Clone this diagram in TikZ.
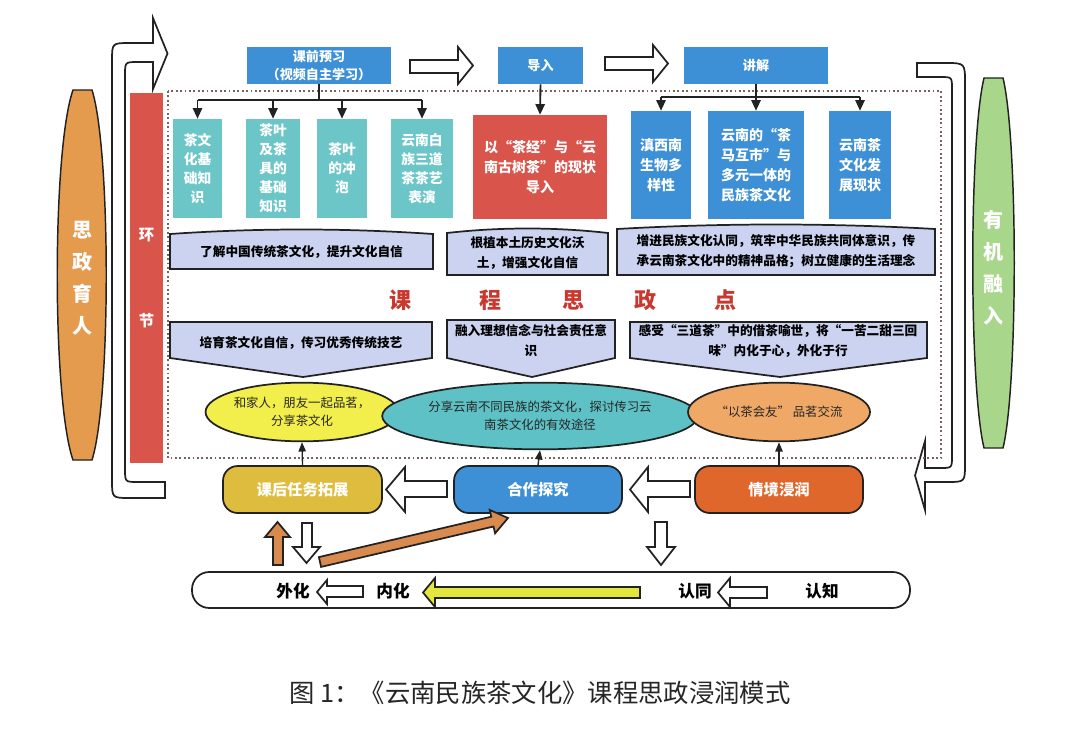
\documentclass[tikz,border=0pt]{standalone}
\usepackage{fontspec}
\setmainfont{Noto Sans CJK SC}
\usetikzlibrary{shapes.geometric,fit,arrows.meta}
\definecolor{cBlue}{HTML}{3D8FD6}
\definecolor{cTeal}{HTML}{6CC6C8}
\definecolor{cRed}{HTML}{D9544B}
\definecolor{cOrgLens}{HTML}{E49B4E}
\definecolor{cGreen}{HTML}{A8D68A}
\definecolor{cLav}{HTML}{CBD3F1}
\definecolor{cYel}{HTML}{F2EE4B}
\definecolor{cTealE}{HTML}{5DC1C5}
\definecolor{cOrgE}{HTML}{F0A866}
\definecolor{cGold}{HTML}{DEBD3E}
\definecolor{cOrgB}{HTML}{E0672C}
\definecolor{cHead}{HTML}{C8382F}
\definecolor{cOrgA}{HTML}{D98A4E}
\definecolor{cYelA}{HTML}{E4E63E}
\definecolor{cDot}{HTML}{7A6060}
\definecolor{cLine}{HTML}{222222}
\newcommand\fsz[2]{\fontsize{#1pt}{#2pt}\selectfont}
% box from pixel corners: style, name, x1, y1, x2, y2, text
\newcommand\bx[7]{%
  \pgfmathsetmacro\bxcx{(#3+#5)/2}\pgfmathsetmacro\bxcy{(#4+#6)/2}%
  \pgfmathsetmacro\bxw{(#5-#3)*0.75}\pgfmathsetmacro\bxh{(#6-#4)*0.75}%
  \node[#1,minimum width=\bxw pt,minimum height=\bxh pt] (#2) at (\bxcx,\bxcy) {#7};}
\begin{document}
\begin{tikzpicture}[x=0.75pt,y=-0.75pt,
  outl/.style={draw=cLine,line width=1.3pt},
  hollow/.style={outl,fill=white,line join=miter},
  lens/.style={outl,line width=1.1pt},
  tbx/.style={inner sep=0pt,align=center,text=white,fill=cBlue,font=\bfseries\fsz{9.8}{13.5}},
  tealbx/.style={inner sep=0pt,align=center,text=white,fill=cTeal,font=\bfseries\fsz{10.3}{14.2}},
  bluebx/.style={inner sep=0pt,align=center,text=white,fill=cBlue,font=\bfseries\fsz{10.5}{15}},
  redbx/.style={inner sep=0pt,align=center,text=white,fill=cRed,font=\bfseries\fsz{10.5}{15}},
  ban/.style={outl,fill=cLav},
  bantxt/.style={inner sep=0pt,align=center,text=black,font=\bfseries\fsz{9.5}{15}},
  ell/.style={ellipse,outl,inner sep=0pt,align=center,text=black!85,font=\fsz{9.3}{13.5}},
  botbx/.style={outl,rounded corners=11pt,inner sep=0pt,align=center,text=white,font=\bfseries\fsz{11.5}{14}},
  head/.style={text=cHead,font=\bfseries\fsz{16.5}{18},inner sep=0pt},
  bartxt/.style={text=black,font=\bfseries\fsz{12.5}{14},inner sep=0pt},
  vtxt/.style={text=white,align=center,font=\bfseries\fsz{15}{24},inner sep=0pt},
  cline/.style={draw=cLine,line width=1.4pt},
  carrow/.style={cline,-{Triangle[length=8pt,width=7pt]}},
  uparrow/.style={draw=cLine,line width=1pt,-{Triangle[length=7pt,width=5.5pt]}}
]
\useasboundingbox (0,0) rectangle (1080,738);

% side lenses
\draw[lens,fill=cOrgLens] (73,90) -- (92,90) .. controls (111,150) and (111,400) .. (92,460) -- (73,460) .. controls (52,400) and (52,150) .. (73,90) -- cycle;
\node[vtxt] (szyr) at (82.5,278) {思\\政\\育\\人};
\draw[lens,fill=cGreen] (984,78) -- (1003,78) .. controls (1018,140) and (1018,386) .. (1003,448) -- (984,448) .. controls (969,386) and (969,140) .. (984,78) -- cycle;
\node[vtxt] (yjrr) at (993.5,268) {有\\机\\融\\入};

% big U arrows
\draw[hollow] (165,482) -- (138,482) .. controls (125,482) .. (125,469) -- (125,75) .. controls (125,62) .. (138,62) -- (153,62) -- (153,89) -- (167.5,53.5) -- (153,18) -- (153,43) -- (130,43) .. controls (112,43) .. (112,61) -- (112,480) .. controls (112,498) .. (130,498) -- (165,498) -- cycle;
\draw[hollow] (917,63) -- (945,63) .. controls (965,63) .. (965,83) -- (965,464) .. controls (965,482) .. (947,482) -- (925,482) -- (925,510) -- (915,475.5) -- (925,441) -- (925,468) -- (940,468) .. controls (952,468) .. (952,456) -- (952,89) .. controls (952,77) .. (940,77) -- (917,77) -- cycle;

% red bar
\bx{fill=cRed,inner sep=0pt}{hj}{130}{93}{163}{463}{}
\node[text=white,font=\bfseries\fsz{11.5}{65},align=center,inner sep=0pt] (hjt) at (hj.center) {环\\节};

% dotted frame
\draw[cDot,line width=1.3pt,dotted] (168,91) rectangle (941,458);

% top row
\bx{tbx}{pre}{247}{47}{391}{84}{课前预习\\（视频自主学习）}
\bx{tbx}{dao}{498}{47}{583}{84}{导入}
\bx{tbx}{jj}{684}{47}{828}{84}{讲解}
\draw[hollow] (410,60) -- (458,60) -- (458,47) -- (473,65.5) -- (458,84) -- (458,73) -- (410,73) -- cycle;
\draw[hollow] (605,57) -- (653,57) -- (653,45) -- (668,63.5) -- (653,82) -- (653,70) -- (605,70) -- cycle;

% content boxes
\bx{tealbx}{t1}{173}{119}{222}{218}{茶文\\化基\\础知\\识}
\bx{tealbx}{t2}{246}{119}{300}{218}{茶叶\\及茶\\具的\\基础\\知识}
\bx{tealbx}{t3}{317}{119}{367}{218}{茶叶\\的冲\\泡}
\bx{tealbx}{t4}{391}{119}{453}{218}{云南白\\族三道\\茶茶艺\\表演}
\bx{redbx}{rb}{473}{115}{607}{219}{以“茶经”与“云\\南古树茶”的现状\\导入}
\bx{bluebx}{b1}{631}{111}{691}{219}{滇西南\\生物多\\样性}
\bx{bluebx}{b2}{708}{111}{804}{219}{云南的“茶\\马互市”与\\多元一体的\\民族茶文化}
\bx{bluebx}{b3}{829}{111}{891}{219}{云南茶\\文化发\\展现状}

% connectors top
\coordinate (j1) at (319,100);
\draw[cline] (pre.south) -- (j1);
\draw[cline] (j1 -| t1.north) -- (j1 -| t4.north);
\foreach \t in {t1,t2,t3,t4} \draw[carrow] (j1 -| \t.north) -- (\t.north);
\draw[carrow] (dao.south) -- (rb.north);
\coordinate (j2) at (756,97);
\draw[cline] (jj.south) -- (j2);
\draw[cline] (j2 -| b1.north) -- (j2 -| b3.north);
\foreach \t in {b1,b2,b3} \draw[carrow] (j2 -| \t.north) -- (\t.north);

% upper banners
\draw[ban] (170,234) .. controls (258,228) and (345,228) .. (433,234) -- (433,269) -- (170,269) -- cycle;
\node[bantxt] (pA) at (301.5,252) {了解中国传统茶文化，提升文化自信};
\draw[ban] (447,233) .. controls (500,227) and (555,227) .. (608,233) -- (608,275) -- (447,275) -- cycle;
\node[bantxt] (pB) at (527.5,253) {根植本土历史文化沃\\土，增强文化自信};
\draw[ban] (617,229) .. controls (723,223) and (829,223) .. (935,229) -- (935,275) -- (617,275) -- cycle;
\node[bantxt] (pC) at (776,251) {增进民族文化认同，筑牢中华民族共同体意识，传\\承云南茶文化中的精神品格；树立健康的生活理念};

% heading
\node[head] (k1) at (400,300) {课};
\node[head] (k2) at (490,300) {程};
\node[head] (k3) at (573,300) {思};
\node[head] (k4) at (645,300) {政};
\node[head] (k5) at (725,300) {点};

% lower banners
\draw[ban] (170,322) -- (432,322) -- (432,358) -- (303,377) -- (170,358) -- cycle;
\node[bantxt] (qA) at (301,343) {培育茶文化自信，传习优秀传统技艺};
\draw[ban] (447,320) -- (615,320) -- (615,358) -- (532,377) -- (447,358) -- cycle;
\node[bantxt] (qB) at (531,341) {融入理想信念与社会责任意\\识};
\draw[ban] (630,322) -- (927,322) -- (927,358) -- (780,377) -- (630,358) -- cycle;
\node[bantxt] (qC) at (778,341) {感受“三道茶”中的借茶喻世，将“一苦二甜三回\\味”内化于心，外化于行};

% ellipses
\node[ell,fill=cYel,minimum width=131pt,minimum height=44pt] (ey) at (302,412) {和家人，朋友一起品茗，\\分享茶文化};
\node[ell,fill=cTealE,minimum width=198pt,minimum height=50pt] (et) at (540,416) {分享云南不同民族的茶文化，探讨传习云\\南茶文化的有效途径};
\node[ell,fill=cOrgE,minimum width=136.5pt,minimum height=44pt] (eo) at (779,412) {“以茶会友”\ 品茗交流};

% bottom boxes
\bx{botbx,fill=cGold}{kh}{223}{466}{382}{513}{课后任务拓展}
\bx{botbx,fill=cBlue}{hz}{454}{466}{622}{513}{合作探究}
\bx{botbx,fill=cOrgB}{qj}{695}{466}{863}{513}{情境浸润}
\draw[uparrow] (kh.north) -- (ey.south);
\draw[uparrow] (hz.north) -- (et.south);
\draw[uparrow] (qj.north) -- (eo.south);
\draw[hollow] (447,481) -- (405,481) -- (405,467) -- (386,489.5) -- (405,512) -- (405,497) -- (447,497) -- cycle;
\draw[hollow] (690,481) -- (648,481) -- (648,467) -- (630,489.5) -- (648,512) -- (648,497) -- (690,497) -- cycle;

% vertical arrows
\draw[outl,fill=cOrgA,line join=miter] (273,565) -- (273,537) -- (265,537) -- (277.5,522) -- (290,537) -- (283,537) -- (283,565) -- cycle;
\draw[hollow] (302,523) -- (312,523) -- (312,547) -- (320,547) -- (306.5,563) -- (293,547) -- (302,547) -- cycle;
\draw[hollow] (655,522) -- (667,522) -- (667,547) -- (675,547) -- (661,565) -- (647,547) -- (655,547) -- cycle;
\draw[outl,fill=cOrgA,line join=miter] (318.9,557.1) -- (491.3,516.7) -- (489.7,509.9) -- (508,518) -- (495.1,533.3) -- (493.5,526.5) -- (321.1,566.9) -- cycle;

% bottom bar
\draw[outl,fill=white,rounded corners=13pt] (192,572) rectangle (910,608);
\node[bartxt] (wh) at (293,591) {外化};
\node[bartxt] (nh) at (393,591) {内化};
\node[bartxt] (rt) at (695,591) {认同};
\node[bartxt] (rz) at (822,591) {认知};
\draw[hollow] (363,586) -- (327,586) -- (327,580) -- (317,592) -- (327,604) -- (327,597) -- (363,597) -- cycle;
\draw[outl,fill=cYelA,line join=miter] (640,587) -- (435,587) -- (435,578) -- (423,592.5) -- (435,607) -- (435,598) -- (640,598) -- cycle;
\draw[hollow] (767,587) -- (730,587) -- (730,578) -- (718,592.5) -- (730,607) -- (730,598) -- (767,598) -- cycle;

% caption
\node[text=black!85,font=\fsz{19}{22},inner sep=0pt] (cap) at (540,693) {图 1：《云南民族茶文化》课程思政浸润模式};
\end{tikzpicture}
\end{document}
